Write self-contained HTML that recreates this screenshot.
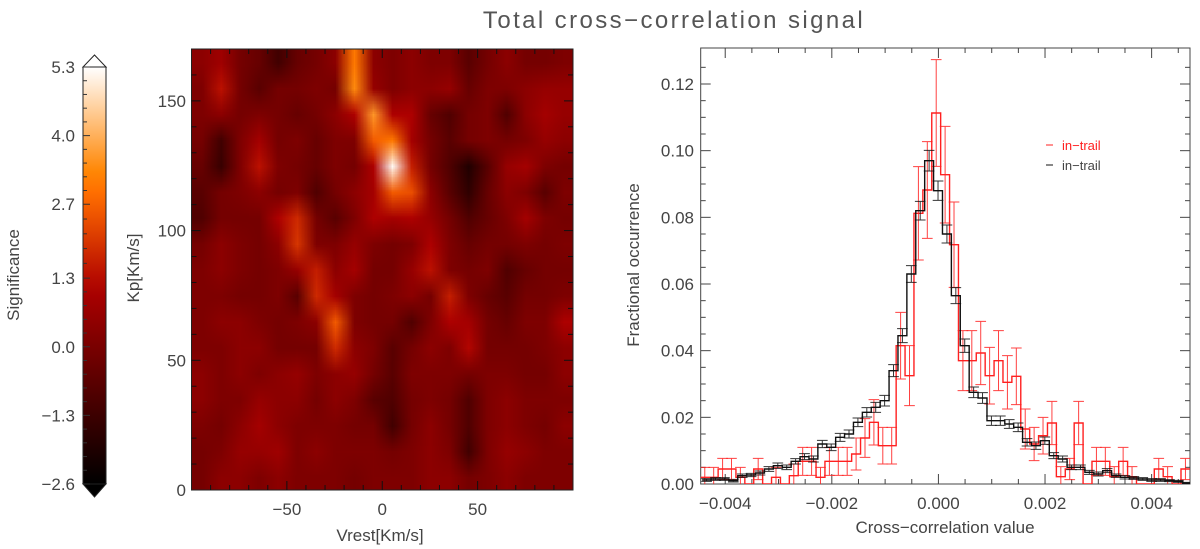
<!DOCTYPE html>
<html><head><meta charset="utf-8"><style>
html,body{margin:0;padding:0;background:#fff;width:1200px;height:549px;overflow:hidden}
#wrap{position:relative;width:1200px;height:549px}
canvas{position:absolute;left:191.5px;top:49px;width:381.5px;height:441px}
svg{position:absolute;left:0;top:0}
text{font-family:"Liberation Sans",sans-serif;fill:#444}
</style></head><body>
<div id="wrap">
<canvas id="hm" width="20" height="17"></canvas>
<svg id="s" width="1200" height="549">
<text x="674" y="28" text-anchor="middle" font-size="24" letter-spacing="2.4" style="fill:#555">Total cross−correlation signal</text>
</svg>
</div>
<script>
// ---------- heatmap data ----------
const vrestCenters=[-95,-85,-75,-65,-55,-45,-35,-25,-15,-5,5,15,25,35,45,55,65,75,85,95];
const kpCenters=[165,155,145,135,125,115,105,95,85,75,65,55,45,35,25,15,5];
const sigRows=[
[0.4,0.8,-0.1,-0.4,-1.2,-0.4,-0.1,0.4,3.1,0.4,0.1,0.4,0.1,0.1,-0.7,-0.1,0.4,-0.1,-0.1,0.1],
[0.1,1.4,-0.1,-0.7,-0.1,-0.1,0.1,-0.1,3.4,0.6,0.1,0.4,0.4,0.6,-0.4,0.1,0.1,0.4,0.6,0.6],
[0.1,0.4,-0.1,0.1,-0.1,-0.4,-0.1,0.4,1.1,3.6,1.1,1.1,-0.4,-0.9,-0.1,0.1,-0.9,0.4,0.9,0.6],
[-0.1,-1.2,0.1,0.9,-0.1,0.1,-0.4,0.1,0.1,2.6,3.1,0.9,-0.1,-0.7,-0.1,0.1,-0.1,0.1,0.6,0.4],
[-0.4,-1.4,0.1,1.4,0.1,-0.1,-0.4,0.1,-0.1,1.1,5.2,1.6,-0.1,-0.9,-1.9,-0.7,0.6,0.9,0.1,-0.1],
[-0.7,-0.1,0.1,0.4,-0.1,0.1,-0.9,-0.1,0.4,0.9,2.6,2.4,0.4,-0.7,-1.6,-0.4,0.4,0.1,-0.7,0.1],
[-0.9,-0.1,-0.1,-0.1,1.1,1.8,-0.1,-0.7,0.1,1.1,0.9,1.1,0.6,-0.1,-0.9,-0.4,0.1,0.9,0.1,-0.1],
[-0.1,0.4,0.1,-0.1,0.4,2.0,0.1,0.1,0.6,0.1,-0.1,0.1,1.1,0.1,-0.4,-0.1,-0.1,0.1,-0.1,0.1],
[0.1,0.4,0.1,-0.1,0.1,0.6,1.6,0.4,0.9,-0.1,-0.1,0.6,1.4,0.1,-0.1,0.1,-0.9,-0.4,-0.1,-0.1],
[0.1,0.1,-0.1,-0.1,0.1,-0.7,1.8,0.9,0.1,-0.1,0.1,0.4,-0.1,1.6,0.1,-0.4,-0.7,-0.1,-0.1,0.1],
[0.1,0.4,0.4,0.1,-0.1,0.1,0.4,2.6,0.1,-0.1,-0.1,-0.9,0.1,1.1,0.9,-0.1,-0.4,0.1,0.1,1.1],
[0.1,0.1,0.4,0.4,-0.1,-0.1,-0.1,1.8,0.4,0.1,-0.7,-0.1,0.4,0.1,1.2,-0.1,-0.1,-0.1,0.1,0.4],
[0.4,0.1,0.4,0.1,0.4,0.6,0.1,0.4,0.6,-0.1,-0.7,0.1,0.1,0.1,-0.1,0.1,0.1,-0.1,-0.1,0.4],
[0.4,0.1,0.1,0.6,0.4,0.4,-0.1,0.4,0.1,-0.7,-0.9,-0.1,0.1,-0.1,-0.9,0.1,0.4,0.1,0.1,0.1],
[0.1,-0.1,0.4,0.9,0.4,0.1,0.1,0.1,-0.1,-0.1,-1.2,-0.1,0.4,-0.1,-0.9,0.1,0.4,0.1,-0.1,0.4],
[-0.1,0.1,0.6,0.6,0.8,0.1,0.4,0.1,0.1,0.1,-0.1,0.1,0.4,0.1,-1.2,0.1,0.6,0.4,0.1,0.1],
[-0.1,0.4,0.4,0.1,0.4,0.1,0.1,0.1,-0.1,0.1,0.1,0.1,0.4,0.4,-0.1,0.1,0.4,0.1,0.1,0.1]];
const cbarTicks=[5.3,4.0,2.7,1.3,0.0,-1.3,-2.6];
const kpTicks=[0,50,100,150];
const vrTicks=[-50,0,50];
// ---------- histogram data ----------
const blackStart=-0.004433, blackWidth=0.000167;
const blackVals=[.0012,.0015,.0015,.0010,.0025,.0027,.0033,.0045,.0055,.0050,.0068,.0082,.0075,.0120,.0110,.0140,.0150,.0185,.0215,.0230,.0250,.0340,.0445,.0630,.0820,.0970,.0880,.0750,.0565,.0415,.0275,.0258,.0190,.0190,.0180,.0170,.0125,.0115,.0130,.0085,.0075,.0050,.0050,.0035,.0030,.0040,.0025,.0020,.0018,.0015,.0012,.0012,.0010,.0008,.0003];
const blackErr=[.0004,.0004,.0004,.0004,.0005,.0005,.0006,.0007,.0008,.0007,.0008,.0009,.0009,.0011,.0010,.0012,.0012,.0013,.0014,.0015,.0016,.0018,.0021,.0025,.0028,.0031,.0029,.0027,.0024,.0020,.0016,.0016,.0014,.0014,.0013,.0013,.0011,.0011,.0011,.0009,.0009,.0007,.0007,.0006,.0006,.0006,.0005,.0005,.0004,.0004,.0004,.0004,.0003,.0003,.0002];
const redStart=-0.004467, redWidth=0.000167;
const redVals=[.0020,.0020,.0045,.0045,.0020,.0000,.0045,.0000,.0020,.0000,.0025,.0068,.0068,.0020,.0068,.0068,.0068,.0090,.0138,.0185,.0115,.0115,.0415,.0325,.0812,.0882,.1113,.0928,.0718,.0370,.0370,.0393,.0325,.0370,.0305,.0323,.0165,.0120,.0145,.0183,.0022,.0045,.0183,.0000,.0068,.0068,.0022,.0068,.0022,.0000,.0000,.0045,.0022,.0000,.0045];
const redErr=[.003,.003,.0032,.0032,.003,0,.0032,0,.003,0,.0035,.0042,.0042,.003,.0042,.0042,.0042,.0048,.0058,.0068,.0055,.0055,.01,.009,.014,.0145,.016,.0145,.0128,.009,.009,.0095,.0085,.009,.008,.0085,.006,.005,.0055,.0065,.003,.0032,.0065,0,.0042,.0042,.003,.0042,.003,0,0,.0032,.003,0,.0032];
const xTicks=[-0.004,-0.002,0.000,0.002,0.004];
const xTickLabels=["−0.004","−0.002","0.000","0.002","0.004"];
const yTicks=[0,0.02,0.04,0.06,0.08,0.10,0.12];
const yTickLabels=["0.00","0.02","0.04","0.06","0.08","0.10","0.12"];

const NS="http://www.w3.org/2000/svg";
const svg=document.getElementById('s');
function mk(tag,attrs,parent){const e=document.createElementNS(NS,tag);for(const k in attrs)e.setAttribute(k,attrs[k]);(parent||svg).appendChild(e);return e;}
function txt(x,y,s,anchor,size,parent,rot){const e=mk('text',{x:x,y:y,'text-anchor':anchor,'font-size':size},parent);if(rot)e.setAttribute('transform','rotate(-90 '+x+' '+y+')');e.textContent=s;return e;}

const vmin=-2.6,vmax=5.3;
function cmap(v){let t=(v-vmin)/(vmax-vmin);t=Math.max(0,Math.min(1,t));
 const r=Math.min(255,t/0.69*255),g=Math.max(0,(t-0.47)/0.53*255),b=Math.max(0,(t-0.745)/0.255*255);
 return [Math.round(r),Math.round(g),Math.round(b)];}

const cv=document.getElementById('hm');const ctx=cv.getContext('2d');
const img=ctx.createImageData(vrestCenters.length,kpCenters.length);
kpCenters.forEach((kp,j)=>{vrestCenters.forEach((v,i)=>{const c=cmap(sigRows[j][i]);const o=(j*vrestCenters.length+i)*4;img.data[o]=c[0];img.data[o+1]=c[1];img.data[o+2]=c[2];img.data[o+3]=255;});});
ctx.putImageData(img,0,0);

const HX0=191.5,HX1=573,HY0=49,HY1=490;
const hx=v=>HX0+(v+100)/200*(HX1-HX0);
const hy=k=>HY1-k/170*(HY1-HY0);
const hg=mk('g',{});


mk('rect',{x:HX0,y:HY0,width:HX1-HX0,height:HY1-HY0,fill:'none',stroke:'#222','stroke-width':1},hg);
for(let v=-90;v<=90;v+=10){const L=(v%50===0)?9:5;mk('line',{x1:hx(v),x2:hx(v),y1:HY1,y2:HY1-L,stroke:'#111'},hg);mk('line',{x1:hx(v),x2:hx(v),y1:HY0,y2:HY0+L,stroke:'#111'},hg);}
for(let k=10;k<=160;k+=10){const L=(k%50===0)?9:5;mk('line',{x1:HX0,x2:HX0+L,y1:hy(k),y2:hy(k),stroke:'#111'},hg);mk('line',{x1:HX1,x2:HX1-L,y1:hy(k),y2:hy(k),stroke:'#111'},hg);}
vrTicks.forEach(v=>{const t=txt(hx(v),515,v<0?'−'+Math.abs(v):String(v),'middle',17,hg);});
kpTicks.forEach(k=>{const t=txt(186,hy(k)+6,String(k),'end',17,hg);});
const xt1=txt(380,541,'Vrest[Km/s]','middle',17,hg);
const yt1=txt(139,268,'Kp[Km/s]','middle',17,hg,true);

const CX0=83,CX1=106,CY0=67,CY1=484;
const cy=v=>CY1-(v-vmin)/(vmax-vmin)*(CY1-CY0);
const defs=mk('defs',{});
const grad=mk('linearGradient',{id:'cg',x1:0,y1:1,x2:0,y2:0},defs);
for(let i=0;i<=20;i++){const v=vmin+(vmax-vmin)*i/20;const c=cmap(v);mk('stop',{offset:(i/20),'stop-color':'rgb('+c.join(',')+')'},grad);}
const cg=mk('g',{});


mk('rect',{x:CX0,y:CY0,width:CX1-CX0,height:CY1-CY0,fill:'url(#cg)',stroke:'#222'},cg);
mk('polygon',{points:CX0+','+CY0+' '+CX1+','+CY0+' '+((CX0+CX1)/2)+','+(CY0-12),fill:'#fff',stroke:'#222'},cg);
mk('polygon',{points:CX0+','+CY1+' '+CX1+','+CY1+' '+((CX0+CX1)/2)+','+(CY1+13),fill:'#000',stroke:'#222'},cg);
for(let i=0;i<cbarTicks.length-1;i++){for(let m=1;m<5;m++){const v=cbarTicks[i]+(cbarTicks[i+1]-cbarTicks[i])*m/5;mk('line',{x1:CX0,x2:CX0+4,y1:cy(v),y2:cy(v),stroke:'#333'},cg);}}
cbarTicks.forEach(v=>{mk('line',{x1:CX0,x2:CX0+7,y1:cy(v),y2:cy(v),stroke:'#333'},cg);const t=txt(75,cy(v)+6,(v<0?'−':'')+Math.abs(v).toFixed(1),'end',17,cg);});
const ct=txt(19,275,'Significance','middle',17,cg,true);

const PX0=700.7,PX1=1190,PY0=48,PY1=484;
const xmin=-0.00446,xmax=0.00472,ymin=0,ymax=0.1308;
const px=v=>PX0+(v-xmin)/(xmax-xmin)*(PX1-PX0);
const py=v=>PY1-(v-ymin)/(ymax-ymin)*(PY1-PY0);
mk('clipPath',{id:'pc'},defs);
mk('rect',{x:PX0,y:PY0,width:PX1-PX0,height:PY1-PY0},document.getElementById('pc'));
const pg=mk('g',{});


function series(start,w,vals,errs,color,name){
 const g=mk('g',{'clip-path':'url(#pc)'});
 
 
 let d='';
 vals.forEach((v,i)=>{const a=px(start+i*w),b=px(start+(i+1)*w),y=py(v);d+=(i===0?'M':'L')+a+','+y+'L'+b+','+y;});
 const p=mk('path',{d:d,fill:'none',stroke:color,'stroke-width':1.4},g);
 
 
 vals.forEach((v,i)=>{const e=errs[i];if(!e)return;const c=px(start+(i+0.5)*w),hw=(px(w)-px(0))*0.6;
  const eg=mk('path',{d:'M'+c+','+py(v-e)+'L'+c+','+py(v+e)+'M'+(c-hw)+','+py(v-e)+'L'+(c+hw)+','+py(v-e)+'M'+(c-hw)+','+py(v+e)+'L'+(c+hw)+','+py(v+e),stroke:color,'stroke-width':1,fill:'none',opacity:0.85},g);
  
  });
}
series(redStart,redWidth,redVals,redErr,'#ff2020','red-histogram');
series(blackStart,blackWidth,blackVals,blackErr,'#111','black-histogram');
mk('rect',{x:PX0,y:PY0,width:PX1-PX0,height:PY1-PY0,fill:'none',stroke:'#444'},pg);
for(let v=-0.0045;v<=0.0046;v+=0.0005){const major=Math.abs(Math.round(v*10000)%20)===0;const L=major?10:5;const x=px(v);if(x<PX0||x>PX1)continue;mk('line',{x1:x,x2:x,y1:PY1,y2:PY1-L,stroke:'#444'},pg);mk('line',{x1:x,x2:x,y1:PY0,y2:PY0+L,stroke:'#444'},pg);}
for(let v=0.005;v<0.13;v+=0.005){const major=Math.abs(Math.round(v*1000)%20)===0;const L=major?10:5;const y=py(v);mk('line',{x1:PX0,x2:PX0+L,y1:y,y2:y,stroke:'#444'},pg);mk('line',{x1:PX1,x2:PX1-L,y1:y,y2:y,stroke:'#444'},pg);}
xTicks.forEach((v,i)=>{const t=txt(px(v),509,xTickLabels[i],'middle',17,pg);});
yTicks.forEach((v,i)=>{const t=txt(694,py(v)+6,yTickLabels[i],'end',17,pg);});
const xt2=txt(945,533,'Cross−correlation value','middle',17,pg);
const yt2=txt(639,265,'Fractional occurrence','middle',17,pg,true);
const lg=mk('g',{});


mk('line',{x1:1046,x2:1053,y1:145,y2:145,stroke:'#ff2020'},lg);
const l1=txt(1062,150,'in−trail','start',13,lg);l1.style.fill='#ff2020';
mk('line',{x1:1046,x2:1053,y1:165,y2:165,stroke:'#111'},lg);
const l2=txt(1062,170,'in−trail','start',13,lg);
</script>
</body></html>
